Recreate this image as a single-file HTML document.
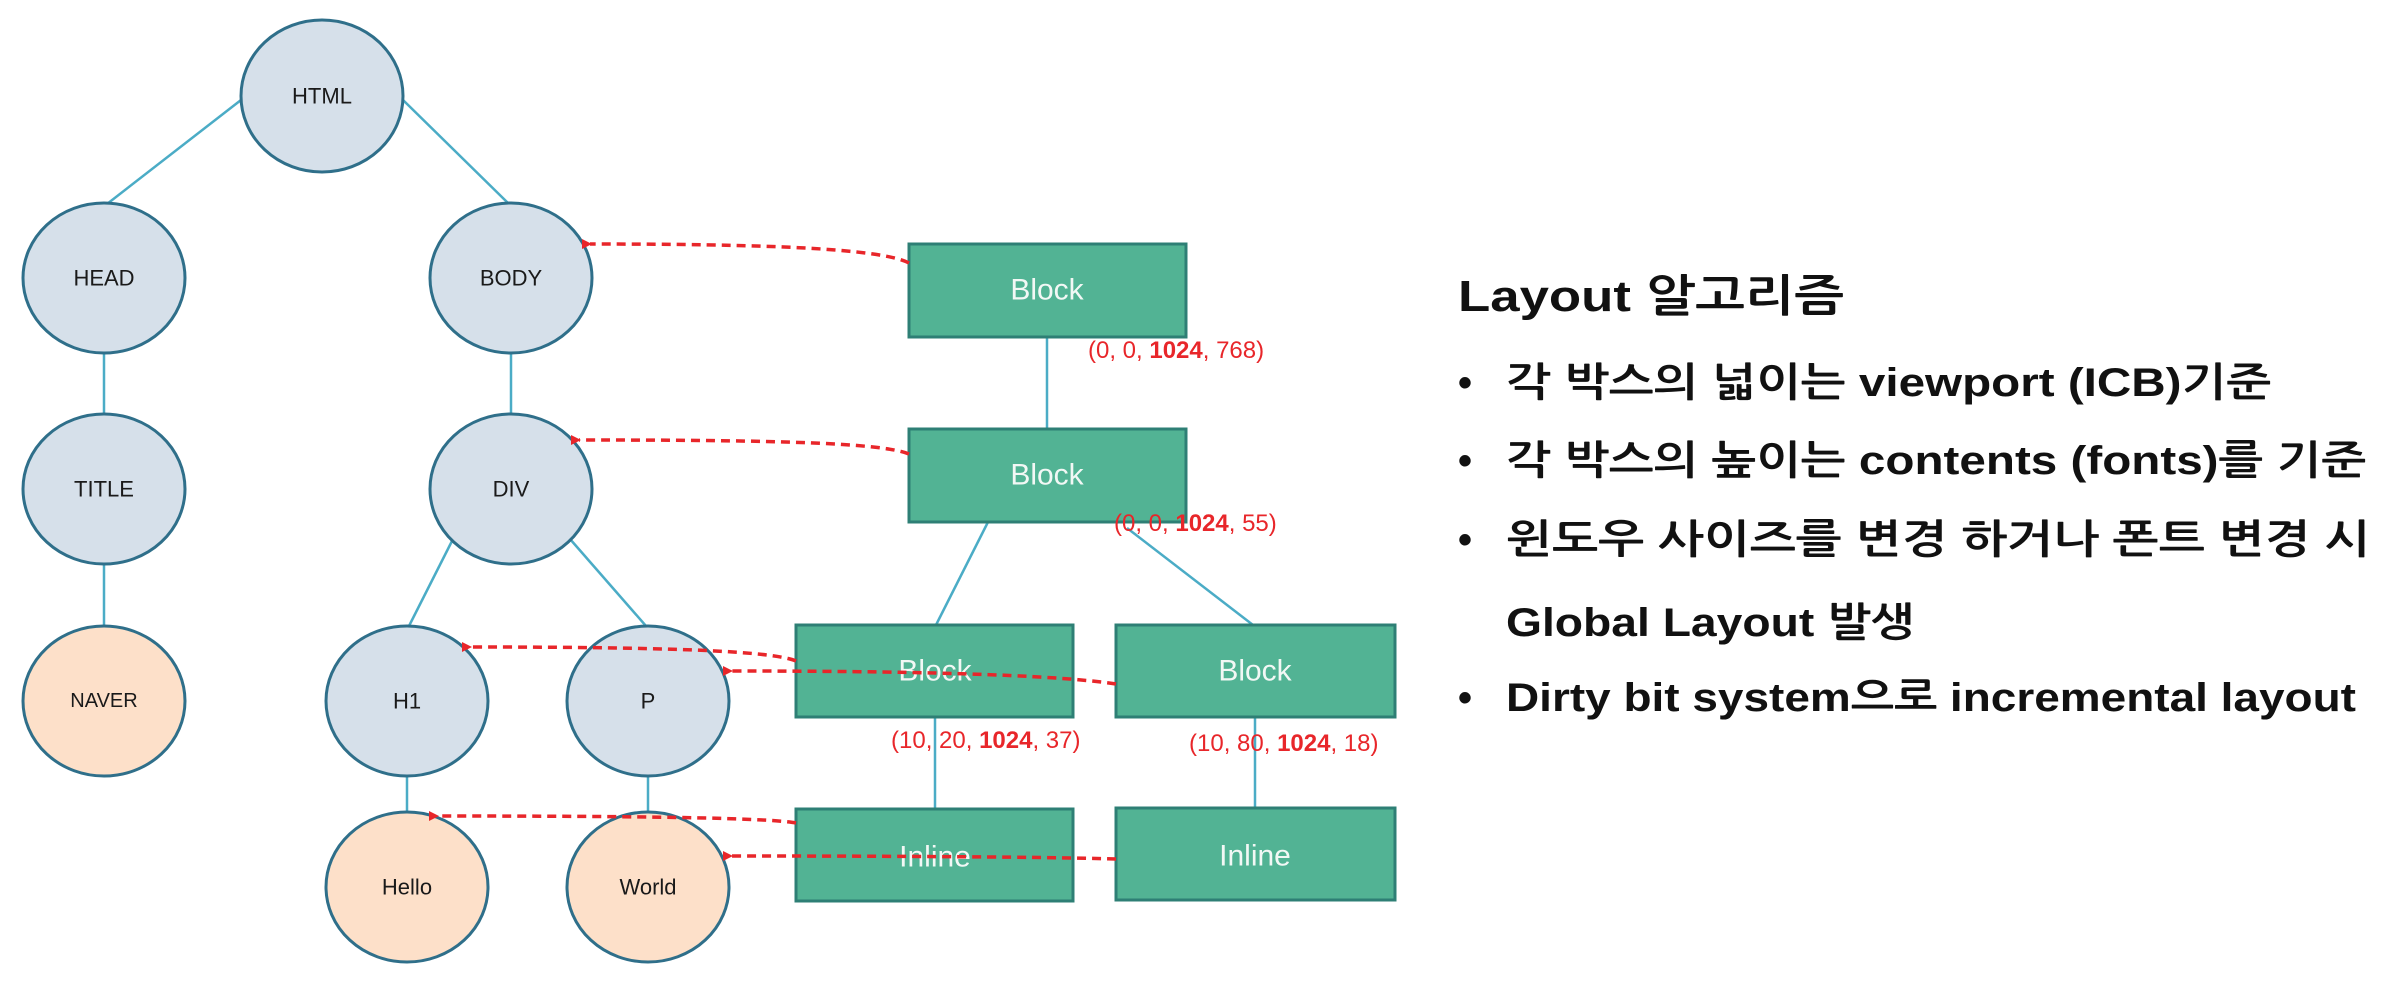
<!DOCTYPE html>
<html><head><meta charset="utf-8"><style>
html,body{margin:0;padding:0;background:#fff;}
svg{display:block;}
.n{font-family:"Liberation Sans",sans-serif;font-size:22px;fill:#1a1a1a;text-anchor:middle;dominant-baseline:central;}
.b{font-family:"Liberation Sans",sans-serif;font-size:30px;fill:#f2f8f5;text-anchor:middle;dominant-baseline:central;}
.r{font-family:"Liberation Sans",sans-serif;font-size:24px;fill:#e8262a;}
.t{font-family:"Liberation Sans","NanumGothic","Noto Sans CJK KR",sans-serif;font-weight:bold;fill:#111;}
</style></head><body>
<svg width="2408" height="992" viewBox="0 0 2408 992" xmlns="http://www.w3.org/2000/svg">
<defs><marker id="a" markerWidth="10" markerHeight="10" refX="2" refY="5" orient="auto" markerUnits="userSpaceOnUse"><path d="M10,0 L0,5 L10,10 z" fill="#e8262a"/></marker></defs>
<g stroke="#4bacc6" stroke-width="2.5">
<line x1="241" y1="100" x2="107" y2="204"/>
<line x1="403" y1="100" x2="509" y2="204"/>
<line x1="104" y1="353" x2="104" y2="414"/>
<line x1="104" y1="564" x2="104" y2="626"/>
<line x1="511" y1="353" x2="511" y2="414"/>
<line x1="452" y1="541" x2="409" y2="626"/>
<line x1="570" y1="539" x2="646" y2="626"/>
<line x1="407" y1="776" x2="407" y2="812"/>
<line x1="648" y1="776" x2="648" y2="812"/>
<line x1="1047" y1="337" x2="1047" y2="428"/>
<line x1="988" y1="522" x2="936" y2="625"/>
<line x1="1127" y1="528" x2="1253" y2="625"/>
<line x1="935" y1="717" x2="935" y2="809"/>
<line x1="1255" y1="717" x2="1255" y2="809"/>
</g>
<g stroke="#2f6f8a" stroke-width="3">
<ellipse cx="322" cy="96" rx="81" ry="76" fill="#d6e0ea"/>
<ellipse cx="104" cy="278" rx="81" ry="75" fill="#d6e0ea"/>
<ellipse cx="511" cy="278" rx="81" ry="75" fill="#d6e0ea"/>
<ellipse cx="104" cy="489" rx="81" ry="75" fill="#d6e0ea"/>
<ellipse cx="511" cy="489" rx="81" ry="75" fill="#d6e0ea"/>
<ellipse cx="104" cy="701" rx="81" ry="75" fill="#fde0c9"/>
<ellipse cx="407" cy="701" rx="81" ry="75" fill="#d6e0ea"/>
<ellipse cx="648" cy="701" rx="81" ry="75" fill="#d6e0ea"/>
<ellipse cx="407" cy="887" rx="81" ry="75" fill="#fde0c9"/>
<ellipse cx="648" cy="887" rx="81" ry="75" fill="#fde0c9"/>
</g>
<text class="n" x="322" y="96">HTML</text>
<text class="n" x="104" y="278">HEAD</text>
<text class="n" x="511" y="278">BODY</text>
<text class="n" x="104" y="489">TITLE</text>
<text class="n" x="511" y="489">DIV</text>
<text class="n" x="104" y="701" style="font-size:20px">NAVER</text>
<text class="n" x="407" y="701">H1</text>
<text class="n" x="648" y="701">P</text>
<text class="n" x="407" y="887">Hello</text>
<text class="n" x="648" y="887">World</text>
<g fill="#52b394" stroke="#2e7f75" stroke-width="3">
<rect x="909" y="244" width="277" height="93"/>
<rect x="909" y="429" width="277" height="93"/>
<rect x="796" y="625" width="277" height="92"/>
<rect x="1116" y="625" width="279" height="92"/>
<rect x="796" y="809" width="277" height="92"/>
<rect x="1116" y="808" width="279" height="92"/>
</g>
<text class="b" x="1047" y="290">Block</text>
<text class="b" x="1047" y="475">Block</text>
<text class="b" x="935" y="671">Block</text>
<text class="b" x="1255" y="671">Block</text>
<text class="b" x="935" y="857">Inline</text>
<text class="b" x="1255" y="856">Inline</text>
<g fill="none" stroke="#e8262a" stroke-width="3.5" stroke-dasharray="9,6">
<path d="M909,263 C880,248 760,244 590,244" marker-end="url(#a)"/>
<path d="M909,454 C880,442 760,440 579,440" marker-end="url(#a)"/>
<path d="M796,661 C770,650 650,647 470,647" marker-end="url(#a)"/>
<path d="M1116,684 C1050,674 900,671 731,671" marker-end="url(#a)"/>
<path d="M796,823 C770,818 650,816 437,816" marker-end="url(#a)"/>
<path d="M1116,859 C1050,857 900,856 731,856" marker-end="url(#a)"/>
</g>
<text class="r" x="1088" y="358">(0, 0, <tspan font-weight="bold">1024</tspan>, 768)</text>
<text class="r" x="1114" y="531">(0, 0, <tspan font-weight="bold">1024</tspan>, 55)</text>
<text class="r" x="891" y="748">(10, 20, <tspan font-weight="bold">1024</tspan>, 37)</text>
<text class="r" x="1189" y="751">(10, 80, <tspan font-weight="bold">1024</tspan>, 18)</text>
<text class="t" x="1458" y="311" font-size="44" textLength="386" lengthAdjust="spacingAndGlyphs">Layout 알고리즘</text>
<g font-size="40">
<text class="t" x="1458" y="396">•</text><text class="t" x="1506" y="396" textLength="765" lengthAdjust="spacingAndGlyphs">각 박스의 넓이는 viewport (ICB)기준</text>
<text class="t" x="1458" y="474">•</text><text class="t" x="1506" y="474" textLength="860" lengthAdjust="spacingAndGlyphs">각 박스의 높이는 contents (fonts)를 기준</text>
<text class="t" x="1458" y="553">•</text><text class="t" x="1506" y="553" textLength="864" lengthAdjust="spacingAndGlyphs">윈도우 사이즈를 변경 하거나 폰트 변경 시</text>
<text class="t" x="1506" y="636" textLength="408" lengthAdjust="spacingAndGlyphs">Global Layout 발생</text>
<text class="t" x="1458" y="711">•</text><text class="t" x="1506" y="711" textLength="850" lengthAdjust="spacingAndGlyphs">Dirty bit system으로 incremental layout</text>
</g>
</svg>
</body></html>
